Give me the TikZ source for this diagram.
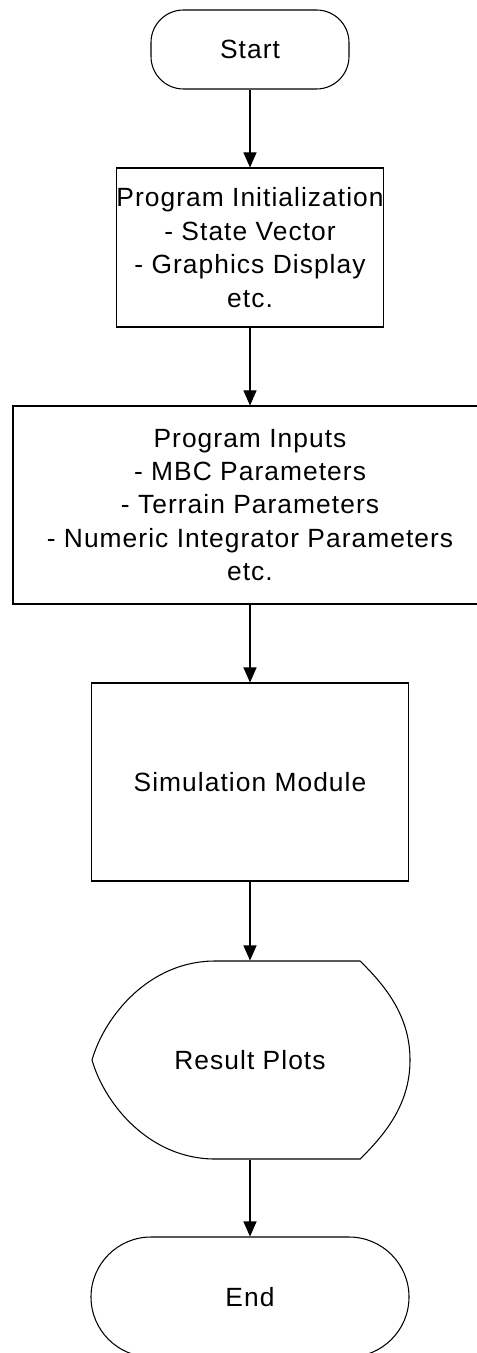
\documentclass[tikz,border=0pt]{standalone}
\usepackage{fontspec}
\setmainfont{Liberation Sans}[LetterSpace=4]
\usetikzlibrary{arrows.meta}
\begin{document}
\begin{tikzpicture}[
	line width=0.6pt,
	every node/.style={font=\fontsize{15}{19}\selectfont, align=center},
	terminal/.style={draw, rectangle, rounded corners=#1, inner sep=0pt},
	process/.style={draw, rectangle, inner sep=0pt},
	flow/.style={-{Triangle[width=0.26cm,length=0.3cm]}}
	]
	
	\useasboundingbox (0,0) rectangle (9.52,-27.06);
	
	% Terminals and boxes
	\node[terminal=0.65cm, minimum width=3.96cm, minimum height=1.58cm] (start) at (5,-0.99) {Start};
	
	\node[process, minimum width=4.54cm, minimum height=3.18cm] (init) at (5,-4.95) {Program Initialization\\ - State Vector\\ - Graphics Display\\ etc.};
	
	\node[process, minimum width=9.48cm, minimum height=3.96cm] (inputs) at (5,-10.10) {Program Inputs\\ - MBC Parameters\\ - Terrain Parameters\\ - Numeric Integrator Parameters\\ etc.};
	
	\node[process, minimum width=6.34cm, minimum height=3.96cm] (sim) at (5,-15.64) {Simulation Module};
	
	\node[minimum width=6.36cm, minimum height=3.96cm, inner sep=0pt] (plots) at (5,-21.20) {Result Plots};
	
	\node[terminal=1.2cm, minimum width=6.36cm, minimum height=2.4cm] (end) at (5,-25.94) {End};
	
	% Display shape
	\draw (4.3,-19.22)
		.. controls (3.0,-19.22) and (2.1,-20.3) .. (1.84,-21.20)
		.. controls (2.1,-22.1) and (3.0,-23.18) .. (4.3,-23.18)
		-- (7.2,-23.18)
		.. controls (7.8,-22.6) and (8.2,-22.0) .. (8.2,-21.20)
		.. controls (8.2,-20.4) and (7.8,-19.8) .. (7.2,-19.22)
		-- cycle;
	
	% Arrows
	\foreach \a/\b in {start/init, init/inputs, inputs/sim, sim/plots, plots/end} {
		\draw[flow] (\a.south) -- (\b.north);
	}
	
\end{tikzpicture}
\end{document}
